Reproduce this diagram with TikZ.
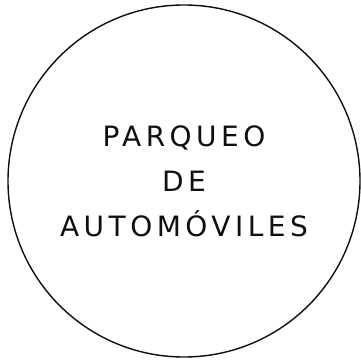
\documentclass[tikz,border=0pt]{standalone}
\usepackage{fontspec}
\setsansfont{DejaVu Sans}[LetterSpace=16]
\usepackage{tikz}
\usetikzlibrary{positioning,calc}
\definecolor{InkBlack}{RGB}{15,15,15}
\tikzset{
	zone/.style={circle,draw=InkBlack,line width=1.4pt,minimum size=352pt,inner sep=0pt,
		align=center,font=\sffamily\fontsize{28}{45}\selectfont,text=InkBlack},
}
\begin{document}
\begin{tikzpicture}[x=1pt,y=1pt]
	\useasboundingbox (0,0) rectangle (361,364);
	\node[zone] (parqueo) at (184,183) {PARQUEO\\DE\\AUTOMÓVILES};
\end{tikzpicture}
\end{document}
